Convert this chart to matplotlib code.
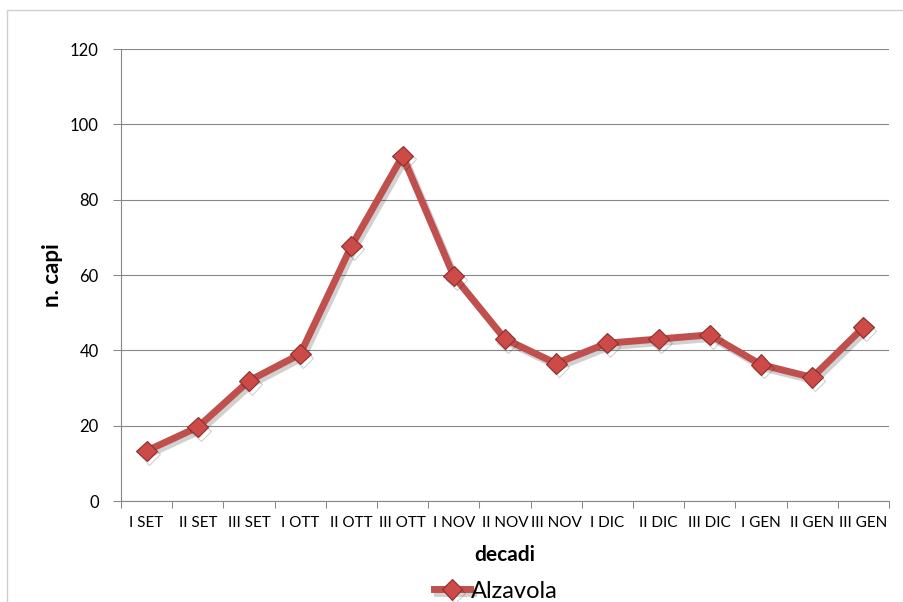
"""Alzavola: n. capi per decade (SET - GEN)."""

import matplotlib

matplotlib.use("Agg")

import matplotlib.patheffects as pe  # noqa: E402
import matplotlib.pyplot as plt  # noqa: E402
import numpy as np  # noqa: E402
from matplotlib.patches import Rectangle  # noqa: E402

decadi = [
    "I SET", "II SET", "III SET",
    "I OTT", "II OTT", "III OTT",
    "I NOV", "II NOV", "III NOV",
    "I DIC", "II DIC", "III DIC",
    "I GEN", "II GEN", "III GEN",
]
alzavola = [13.3, 19.6, 31.9, 39.0, 67.7, 91.6, 59.7, 43.0, 36.5,
            41.9, 43.0, 44.1, 36.2, 32.8, 46.1]
y_ticks = [0, 20, 40, 60, 80, 100, 120]

plt.rcParams["font.family"] = ["Lato", "DejaVu Sans"]

W, H = 904, 602
fig = plt.figure(figsize=(W / 100, H / 100), dpi=100)
ax = fig.add_axes([121 / W, 1 - 501 / H, 768 / W, 452 / H])

grey = "#878787"
red = "#C0504D"

x = np.arange(len(decadi))
ax.plot(
    x, alzavola,
    color=red, lw=5, marker="D", markersize=10.5,
    markerfacecolor="#CC4A47", markeredgecolor="#8E2E2B", markeredgewidth=0.8,
    solid_joinstyle="round", label="Alzavola",
    path_effects=[
        pe.SimpleLineShadow(offset=(2, -2.5), shadow_color="k", alpha=0.18),
        pe.Normal(),
    ],
    zorder=3,
)

ax.set_xlim(-0.5, len(decadi) - 0.5)
ax.set_ylim(0, 120)
ax.set_yticks(y_ticks)
ax.set_xticks(x)
ax.set_xticklabels(decadi)
ax.set_xticks(np.arange(len(decadi) + 1) - 0.5, minor=True)

ax.tick_params(axis="x", which="major", length=0, pad=11, labelsize=11,
               colors="black")
ax.tick_params(axis="x", which="minor", length=5, width=0.75, color=grey,
               direction="out")
ax.tick_params(axis="y", which="major", length=6, width=0.75, color=grey,
               pad=10, labelsize=12, labelcolor="black")

ax.grid(True, axis="y", color=grey, lw=0.8)
ax.set_axisbelow(True)
for side in ("top", "right"):
    ax.spines[side].set_visible(False)
for side in ("left", "bottom"):
    ax.spines[side].set_color(grey)
    ax.spines[side].set_linewidth(0.8)

ax.set_xlabel("decadi", fontsize=15, fontweight="bold")
ax.set_ylabel("n. capi", fontsize=16, fontweight="bold")
ax.xaxis.label.set_va("center")
ax.yaxis.label.set_va("center")
ax.xaxis.set_label_coords(0.5, (501 - 555) / 452)
ax.yaxis.set_label_coords((52 - 121) / 768, 0.5)

fig.legend(
    loc="center", bbox_to_anchor=(496 / W, 1 - 591 / H), frameon=False,
    fontsize=17, handlelength=1.5, handletextpad=0.05,
)

# chart-area frame, running off the right and bottom edges
fig.add_artist(Rectangle((7 / W, -0.1), 1.2, 1 - 10 / H + 0.1,
                         transform=fig.transFigure, fill=False,
                         edgecolor="#CFCFCF", lw=1))

fig.savefig("out.png", dpi=100)
